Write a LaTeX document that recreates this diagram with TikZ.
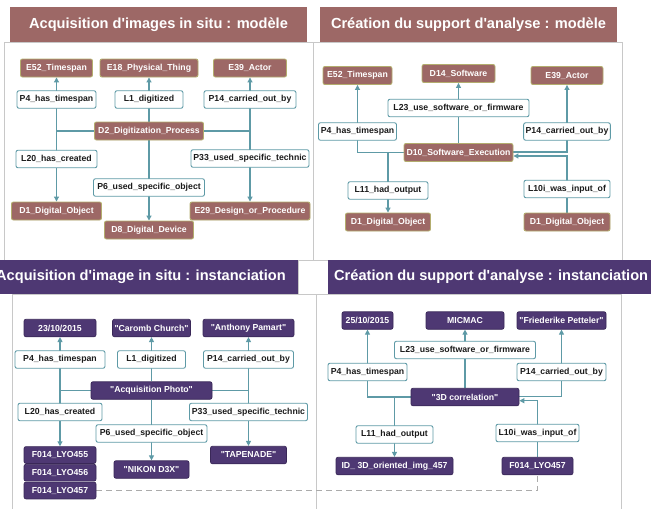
\documentclass[tikz,border=0pt]{standalone}
\usepackage{fontspec}
\newfontfamily\lsans{Liberation Sans}
\usetikzlibrary{arrows.meta}
\definecolor{brownA}{HTML}{9D6866}
\definecolor{oliveB}{HTML}{B3AD6E}
\definecolor{purpA}{HTML}{4E3873}
\definecolor{purpB}{HTML}{3A2858}
\definecolor{tealA}{HTML}{5E9AA6}
\definecolor{grayP}{HTML}{C8C8C8}
\definecolor{dashG}{HTML}{ABABAB}
\definecolor{txtK}{HTML}{1A1A1A}
\pgfdeclarelayer{bg}\pgfdeclarelayer{lines}
\pgfsetlayers{bg,lines,main}
\begin{document}
\begin{tikzpicture}[x=1pt,y=-1pt,
  nfont/.style={font=\lsans\bfseries\fontsize{8.7}{10}\selectfont},
  ent/.style={nfont,draw=oliveB,fill=brownA,text=white,rounded corners=2pt,line width=0.9pt,minimum height=18pt,inner xsep=2pt,inner ysep=0pt},
  inst/.style={nfont,draw=purpB,fill=purpA,text=white,rounded corners=2pt,line width=0.7pt,minimum height=17.5pt,inner xsep=2pt,inner ysep=0pt},
  lab/.style={nfont,draw=tealA,fill=white,text=txtK,rounded corners=2pt,line width=0.9pt,minimum height=17.5pt,inner xsep=2pt,inner ysep=0pt},
  w/.style={minimum width=#1pt},
  conn/.style={draw=tealA,line width=1.1pt},
  arr/.style={conn,-{Triangle[length=5pt,width=5pt]}},
  panel/.style={draw=grayP,line width=1pt},
  ttext/.style={font=\lsans\bfseries\fontsize{14.6}{16}\selectfont,text=white,inner sep=0pt},
  dashline/.style={draw=dashG,line width=1pt,dash pattern=on 6pt off 4pt}
]
\useasboundingbox (0,0) rectangle (651,509);

% background and panels
\begin{pgfonlayer}{bg}
\fill[white] (0,0) rectangle (651,509);
\draw[panel] (4,42) rectangle (313,260);
\draw[panel] (313,42) rectangle (622,260);
\draw[panel] (12,294) rectangle (316,530);
\draw[panel] (316,294) rectangle (621,530);
\draw[panel,fill=white] (298,260) rectangle (329,294);
\end{pgfonlayer}

% titles
\node[fill=brownA,minimum width=297pt,minimum height=35pt,inner sep=0pt] (tTL) at (158.5,24.5) {};
\node[ttext] at (tTL.center) {Acquisition d'images in situ : modèle};
\node[fill=brownA,minimum width=297pt,minimum height=35pt,inner sep=0pt] (tTR) at (468.5,24.5) {};
\node[ttext] at (tTR.center) {Création du support d'analyse : modèle};
\node[fill=purpA,minimum width=298pt,minimum height=34pt,inner sep=0pt] (tBL) at (149,277) {};
\node[ttext,anchor=west] at (-4,277) {Acquisition d'image in situ : instanciation};
\node[fill=purpA,minimum width=323pt,minimum height=34pt,inner sep=0pt] (tBR) at (489.5,277) {};
\node[ttext,anchor=west] at (334,277) {Création du support d'analyse : instanciation};

% ---------- top-left : model ----------
\node[ent,w=72] (E52) at (56.5,68) {E52\_Timespan};
\node[ent,w=98] (E18) at (149,68) {E18\_Physical\_Thing};
\node[ent,w=73] (E39) at (250,68) {E39\_Actor};
\node[lab,w=79] (P4) at (56.5,99.5) {P4\_has\_timespan};
\node[lab,w=68] (L1) at (149,99.5) {L1\_digitized};
\node[lab,w=92] (P14) at (250,99.5) {P14\_carried\_out\_by};
\node[ent,w=109] (D2) at (149,131) {D2\_Digitization\_Process};
\node[lab,w=81] (L20) at (56.5,159) {L20\_has\_created};
\node[lab,w=118] (P33) at (250,158.5) {P33\_used\_specific\_technic};
\node[lab,w=111] (P6) at (149,187.5) {P6\_used\_specific\_object};
\node[ent,w=90] (D1) at (56.5,211) {D1\_Digital\_Object};
\node[ent,w=120] (E29) at (250,211) {E29\_Design\_or\_Procedure};
\node[ent,w=89] (D8) at (149,230) {D8\_Digital\_Device};
\begin{pgfonlayer}{lines}
\draw[arr] (D2.west) -| (E52.south);
\draw[arr] (D2.west) -| (D1.north);
\draw[arr] (D2.north) -- (E18.south);
\draw[arr] (D2.south) -- (D8.north);
\draw[arr] (D2.east) -| (E39.south);
\draw[arr] (D2.east) -| (E29.north);
\end{pgfonlayer}

% ---------- top-right : model ----------
\node[ent,w=69] (E52b) at (357.5,75.5) {E52\_Timespan};
\node[ent,w=73] (D14) at (458.5,73.5) {D14\_Software};
\node[ent,w=72] (E39b) at (567,75.5) {E39\_Actor};
\node[lab,w=141] (L23) at (458.5,108) {L23\_use\_software\_or\_firmware};
\node[lab,w=78] (P4b) at (357.5,131.5) {P4\_has\_timespan};
\node[lab,w=86] (P14b) at (567,131.5) {P14\_carried\_out\_by};
\node[ent,w=109] (D10) at (458.5,152.5) {D10\_Software\_Execution};
\node[lab,w=80] (L11) at (388,190.5) {L11\_had\_output};
\node[lab,w=86] (L10i) at (567,189) {L10i\_was\_input\_of};
\node[ent,w=85] (D1a) at (388,222) {D1\_Digital\_Object};
\node[ent,w=86] (D1b) at (567,222) {D1\_Digital\_Object};
\begin{pgfonlayer}{lines}
\draw[arr] (D10.west) -| (E52b.south);
\draw[arr] (D10.west) -| (D1a.north);
\draw[arr] (D10.north) -- (D14.south);
\draw[arr] ([yshift=0.5pt]D10.east) -| (E39b.south);
\draw[arr] (D1b.north) |- ([yshift=-3.5pt]D10.east);
\end{pgfonlayer}

% ---------- bottom-left : instances ----------
\node[inst,w=72] (d23) at (60,328) {23/10/2015};
\node[inst,w=77] (caromb) at (151.5,328) {"Caromb Church"};
\node[inst,w=91] (anthony) at (248.5,328) {"Anthony Pamart"};
\node[lab,w=90] (P4c) at (60,359.5) {P4\_has\_timespan};
\node[lab,w=68] (L1c) at (151.5,359.5) {L1\_digitized};
\node[lab,w=90] (P14c) at (248.5,359.5) {P14\_carried\_out\_by};
\node[inst,w=121] (acq) at (151.5,390.5) {"Acquisition Photo"};
\node[lab,w=84] (L20c) at (60,412) {L20\_has\_created};
\node[lab,w=118] (P33c) at (248.5,412) {P33\_used\_specific\_technic};
\node[lab,w=111] (P6c) at (151.5,433.5) {P6\_used\_specific\_object};
\node[inst,w=72,minimum height=16.8pt] (F455) at (60,455) {F014\_LYO455};
\node[inst,w=72,minimum height=16.8pt] (F456) at (60,472.7) {F014\_LYO456};
\node[inst,w=72,minimum height=16.8pt] (F457) at (60,490.5) {F014\_LYO457};
\node[inst,w=75] (nikon) at (151.5,469.5) {"NIKON D3X"};
\node[inst,w=76] (tapenade) at (248.5,455) {"TAPENADE"};
\begin{pgfonlayer}{lines}
\draw[arr] (acq.west) -| (d23.south);
\draw[arr] (acq.west) -| (F455.north);
\draw[arr] (acq.north) -- (caromb.south);
\draw[arr] (acq.south) -- (nikon.north);
\draw[arr] (acq.east) -| (anthony.south);
\draw[arr] (acq.east) -| (tapenade.north);
\end{pgfonlayer}

% ---------- bottom-right : instances ----------
\node[inst,w=51] (d25) at (367.5,320.5) {25/10/2015};
\node[inst,w=78] (micmac) at (465,320.5) {MICMAC};
\node[inst,w=89] (fried) at (561.5,320.5) {"Friederike Petteler"};
\node[lab,w=141] (L23d) at (465,350) {L23\_use\_software\_or\_firmware};
\node[lab,w=79] (P4d) at (367.5,372) {P4\_has\_timespan};
\node[lab,w=89] (P14d) at (561.5,372) {P14\_carried\_out\_by};
\node[inst,w=108] (corr) at (465,397) {"3D correlation"};
\node[lab,w=77] (L11d) at (394.5,434.5) {L11\_had\_output};
\node[lab,w=83] (L10d) at (537.5,433) {L10i\_was\_input\_of};
\node[inst,w=117] (ID) at (394.5,466) {ID\_ 3D\_oriented\_img\_457};
\node[inst,w=71] (F457d) at (537.5,466) {F014\_LYO457};
\begin{pgfonlayer}{lines}
\draw[arr] (corr.west) -| (d25.south);
\draw[arr] (corr.west) -| (ID.north);
\draw[arr] (corr.north) -- (micmac.south);
\draw[arr] ([yshift=0.8pt]corr.east) -| (fried.south);
\draw[arr] (F457d.north) |- ([yshift=-3.7pt]corr.east);
\draw[dashline] (F457.east) -| (F457d.south);
\end{pgfonlayer}
\end{tikzpicture}
\end{document}
